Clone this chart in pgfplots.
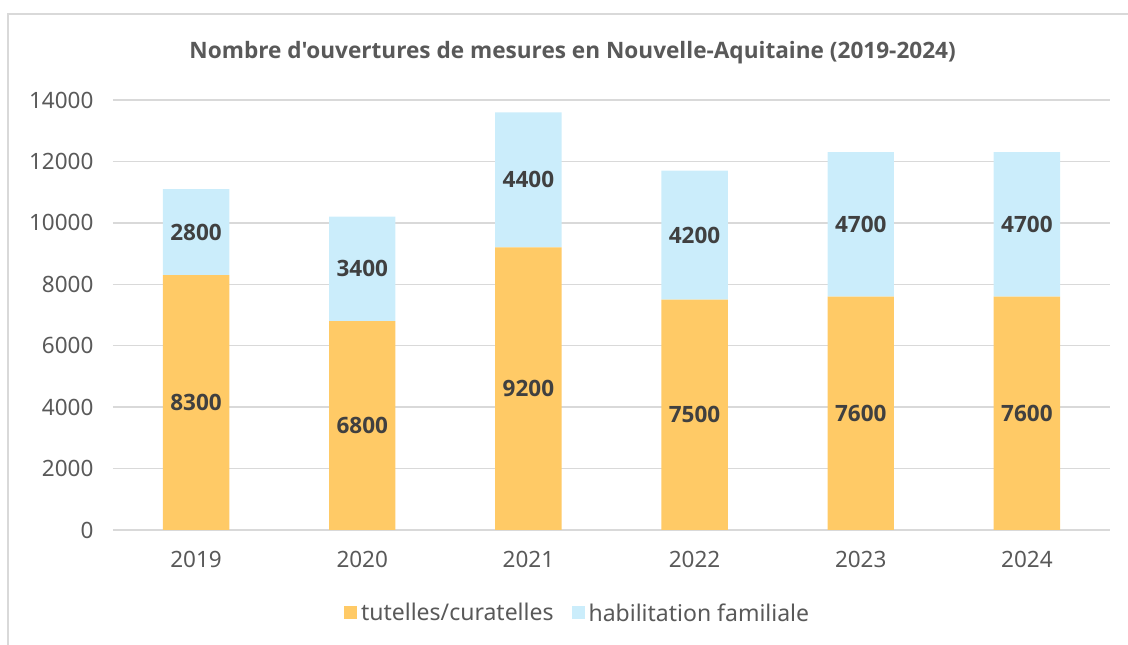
\documentclass[border=0pt]{standalone}
\usepackage{pgfplots}
\pgfplotsset{compat=1.18}
\usepackage{fontspec}
\setmainfont{Noto Sans}
\newfontfamily\titlefont{Open Sans}

\definecolor{barorange}{HTML}{FFCA66}
\definecolor{barblue}{HTML}{CBEDFB}
\definecolor{txtgray}{HTML}{595959}
\definecolor{lblgray}{HTML}{404040}
\definecolor{gridgray}{HTML}{D9D9D9}

\pgfplotstableread{
x tut hab
0 8300 2800
1 6800 3400
2 9200 4400
3 7500 4200
4 7600 4700
5 7600 4700
}\mesures

% milieu de chaque segment, pour les etiquettes
\pgfplotstableread{
x ytut yhab tut hab
0 4150 9700 8300 2800
1 3400 8500 6800 3400
2 4600 11400 9200 4400
3 3750 9600 7500 4200
4 3800 9950 7600 4700
5 3800 9950 7600 4700
}\milieux

\pgfplotsset{
  base/.style={
    scale only axis, width=997pt, height=430pt,
    at={(113pt,115pt)}, anchor=south west,
    xmin=-0.5, xmax=5.5, ymin=0, ymax=14000,
  }
}

\begin{document}
\begin{tikzpicture}
\begin{axis}[
    base,
    ybar stacked, bar width=0.4,
    axis line style={draw=none},
    major tick length=0pt,
    xtick={0,...,5},
    xticklabels={2019,2020,2021,2022,2023,2024},
    ytick={0,2000,...,14000},
    ymajorgrids,
    grid style={gridgray, line width=1.5pt},
    tick label style={font=\fontsize{22.5}{26}\selectfont, text=txtgray},
    /pgf/number format/assume math mode=true,
    scaled y ticks=false,
    yticklabel style={/pgf/number format/1000 sep={}, xshift=-16pt},
    xticklabel style={yshift=-18pt},
    title={Nombre d'ouvertures de mesures en Nouvelle-Aquitaine (2019-2024)},
    title style={font=\titlefont\bfseries\fontsize{22.6}{26}\selectfont, text=txtgray,
      at={(0.461,1.096)}, anchor=center},
    legend columns=2,
    legend style={draw=none, at={(0.466,-0.193)}, anchor=center,
      font=\fontsize{23}{26}\selectfont, text=txtgray,
      /tikz/every even column/.append style={column sep=16pt}},
    legend image code/.code={\fill[#1] (0pt,-6.5pt) rectangle (13pt,6.5pt);},
    legend cell align=left,
]
\addplot[fill=barorange, draw=none] table[x=x, y=tut] {\mesures};
\addlegendentry{\hspace{2pt}tutelles/curatelles}
\addplot[fill=barblue, draw=none] table[x=x, y=hab] {\mesures};
\addlegendentry{\hspace{2pt}habilitation familiale}
\end{axis}

\begin{axis}[base, hide axis, clip=false,
    nodes near coords, point meta=explicit symbolic,
    every node near coord/.append style={anchor=center, text=lblgray,
      font=\titlefont\bfseries\fontsize{22.5}{26}\selectfont}]
\addplot[only marks, mark=none] table[x=x, y=ytut, meta=tut] {\milieux};
\addplot[only marks, mark=none] table[x=x, y=yhab, meta=hab] {\milieux};
\end{axis}

\draw[gridgray, line width=2pt] (8pt,0pt) -- (8pt,631pt) -- (1128pt,631pt);
\pgfresetboundingbox
\useasboundingbox (0pt,0pt) rectangle (1128pt,645pt);
\end{tikzpicture}
\end{document}
